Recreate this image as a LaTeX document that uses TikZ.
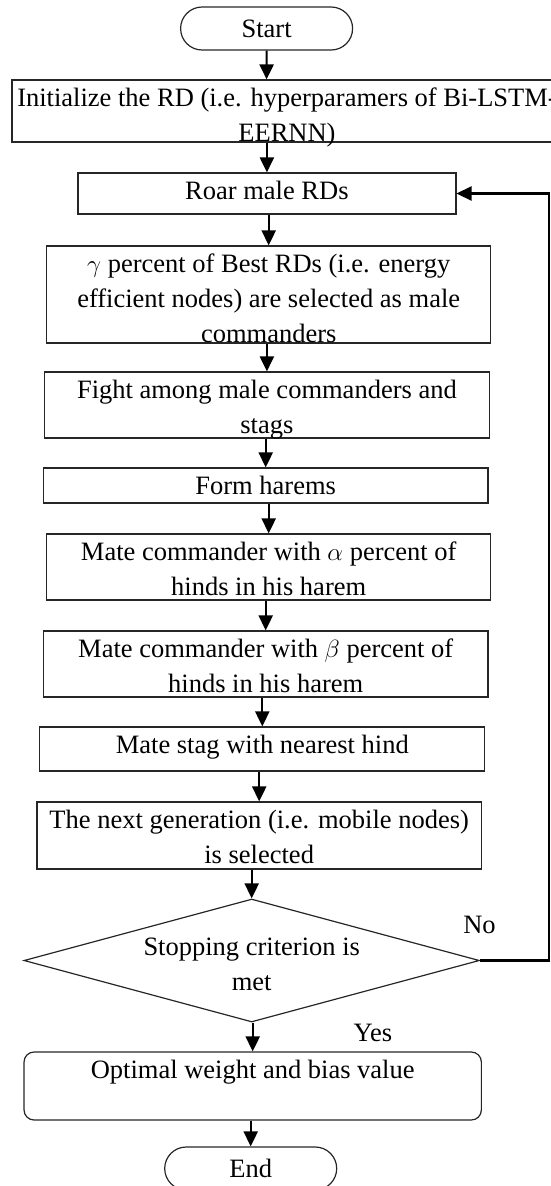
\documentclass[tikz,border=0pt]{standalone}
\usepackage{fontspec}
\setmainfont{Liberation Serif}
\usetikzlibrary{arrows.meta,shapes.geometric,shapes.misc}

\newcommand{\boxtext}[3]{\parbox[c][#2][t]{#1}{\centering\rule{0pt}{26.3pt}#3}}

\begin{document}
\begin{tikzpicture}[x=1pt, y=-1pt,
		font=\fontsize{26.5}{35}\selectfont,
		box/.style={draw=black!85, line width=1.2pt, rectangle, inner sep=0pt},
		term/.style={draw=black!85, line width=1.2pt, rounded rectangle, inner sep=0pt, minimum width=172pt, minimum height=43pt},
		decision/.style={draw=black!85, line width=1.2pt, diamond, inner sep=0pt, minimum width=455.5pt, minimum height=123pt},
		arr/.style={line width=2.2pt, -{Triangle[width=14pt,length=15pt]}}]
		
		\useasboundingbox (0,0) rectangle (550,1186);
		
		\node (start) [term] at (266.6,28.5) {Start};
		\node (init) [box] at (287,111) {\boxtext{550pt}{62pt}{Initialize the RD (i.e. hyperparamers of Bi-LSTM-\\EERNN)}};
		\node (roar) [box] at (266.9,193.5) {\boxtext{378pt}{41pt}{Roar male RDs}};
		\node (gamma) [box] at (268.7,294.5) {\boxtext{444.3pt}{97pt}{$\gamma$ percent of Best RDs (i.e. energy\\efficient nodes) are selected as male\\commanders}};
		\node (fight) [box] at (266.9,405) {\boxtext{445pt}{66pt}{Fight among male commanders and\\stags}};
		\node (form) [box] at (265.7,485.5) {\boxtext{444.6pt}{35pt}{Form harems}};
		\node (alpha) [box] at (268.7,567) {\boxtext{444.3pt}{66pt}{Mate commander with $\alpha$ percent of\\hinds in his harem}};
		\node (beta) [box] at (265.7,664) {\boxtext{444.6pt}{66pt}{Mate commander with $\beta$ percent of\\hinds in his harem}};
		\node (stag) [box] at (262.3,749) {\boxtext{445pt}{44pt}{Mate stag with nearest hind}};
		\node (next) [box] at (259.2,835.5) {\boxtext{444.3pt}{67pt}{The next generation (i.e. mobile nodes)\\is selected}};
		\node (dec) [decision, label={[anchor=north, inner sep=0pt, yshift=-30.7pt]north:{\boxtext{300pt}{70pt}{Stopping criterion is\\met}}}] at (251.7,960.5) {};
		\node (opt) [box, rounded corners=10pt] at (252.7,1086) {\boxtext{457.3pt}{68pt}{Optimal weight and bias value}};
		\node (end) [term] at (250.7,1168.5) {End};
		
		\node (no) at (479.5,925) {No};
		\node (yes) at (373,1033) {Yes};
		
		\draw[arr] (start) -- (start |- init.north);
		\foreach \a/\b in {init/roar, roar/gamma, gamma/fight, fight/form, form/alpha, alpha/beta, beta/stag, stag/next, next/dec, dec/opt, opt/end}
		\draw[arr] (\a.south -| \b.north) -- (\b.north);
		
		\draw[arr] (dec.east) -- ++(68.8,0) |- (roar.east);
		
	\end{tikzpicture}
\end{document}
